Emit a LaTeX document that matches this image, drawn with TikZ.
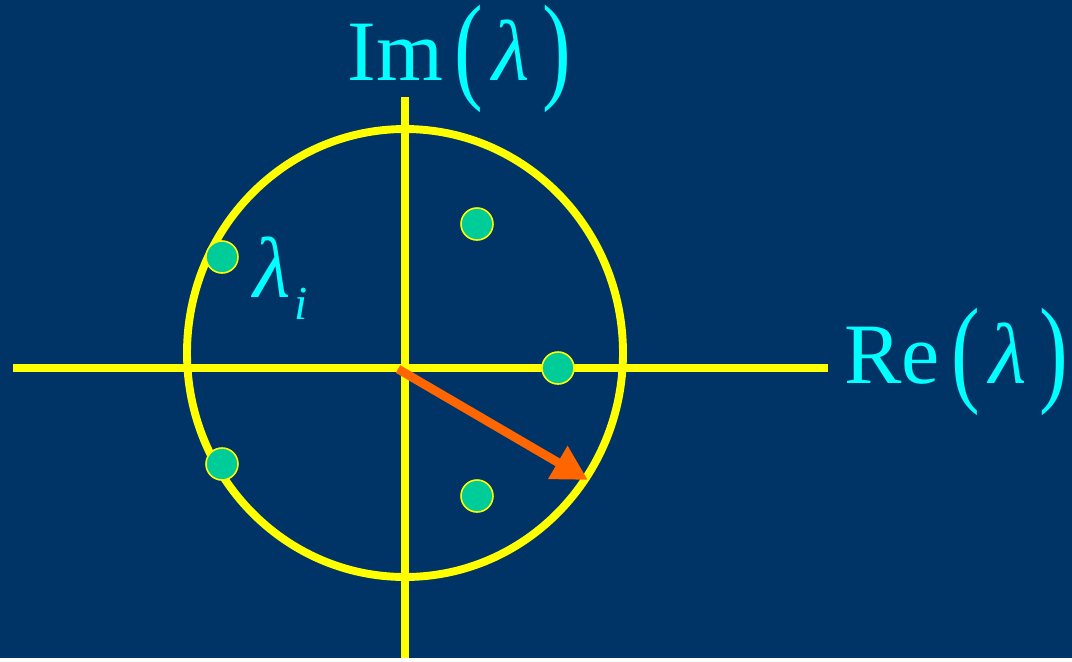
\documentclass[tikz,border=0pt]{standalone}
\usepackage{fontspec}
\setmainfont{Liberation Serif}
\newfontfamily\lblfont{Liberation Serif}
\usetikzlibrary{arrows.meta}
\definecolor{bgblue}{HTML}{003366}
\definecolor{axisyellow}{HTML}{FFFF00}
\definecolor{eigcyan}{HTML}{00FFFF}
\definecolor{eiggreen}{HTML}{00CC99}
\definecolor{arroworange}{HTML}{FF6600}
\newcommand{\tallpar}[1]{\raisebox{-4.5pt}{\scalebox{1}[1.38]{#1}}}
\newcommand{\lampar}{\hspace{6.8pt}\tallpar(\hspace{4.8pt}\textit{λ}\hspace{7.7pt}\tallpar)}
\tikzset{
  axis/.style={axisyellow,line width=4pt},
  lbl/.style={eigcyan,inner sep=0pt,font=\lblfont\fontsize{49}{49}\selectfont},
  eig/.style={circle,fill=eiggreen,draw=axisyellow,line width=0.9pt,minimum size=32*0.02cm,inner sep=0pt},
}
\begin{document}
\begin{tikzpicture}[x=0.02cm,y=-0.02cm]
\fill[bgblue] (0,0) rectangle (1072,658);
\coordinate (o) at (405,368);
\coordinate (w) at (13,368);
\coordinate (e) at (828,368);
\coordinate (n) at (405,97);
\coordinate (s) at (405,658);
\draw[axis] (w)--(e);
\draw[axis] (n)--(s);
\draw[axisyellow,line width=4.5pt] (405,353) ellipse [x radius=218,y radius=224];
\foreach \x/\y/\nm in {477/224/a,222/257/b,558/368/c,222/464/d,477/496/e} \node[eig] (\nm) at (\x,\y) {};
\coordinate (tail) at (398,369);
\coordinate (tip) at (588,480);
\draw[arroworange,line width=5pt,-{Triangle[length=0.7cm,width=0.72cm]}] (tail)--(tip);
\node[lbl,anchor=base west] (im) at (347,80) {Im\lampar};
\node[lbl,anchor=base west] (re) at (844,383) {Re\lampar};
\node[lbl,anchor=base west] (li) at (253,297) {\textit{λ}\hspace{2pt}\raisebox{-13pt}{\fontsize{27}{27}\selectfont\textit{i}}};
\end{tikzpicture}
\end{document}
